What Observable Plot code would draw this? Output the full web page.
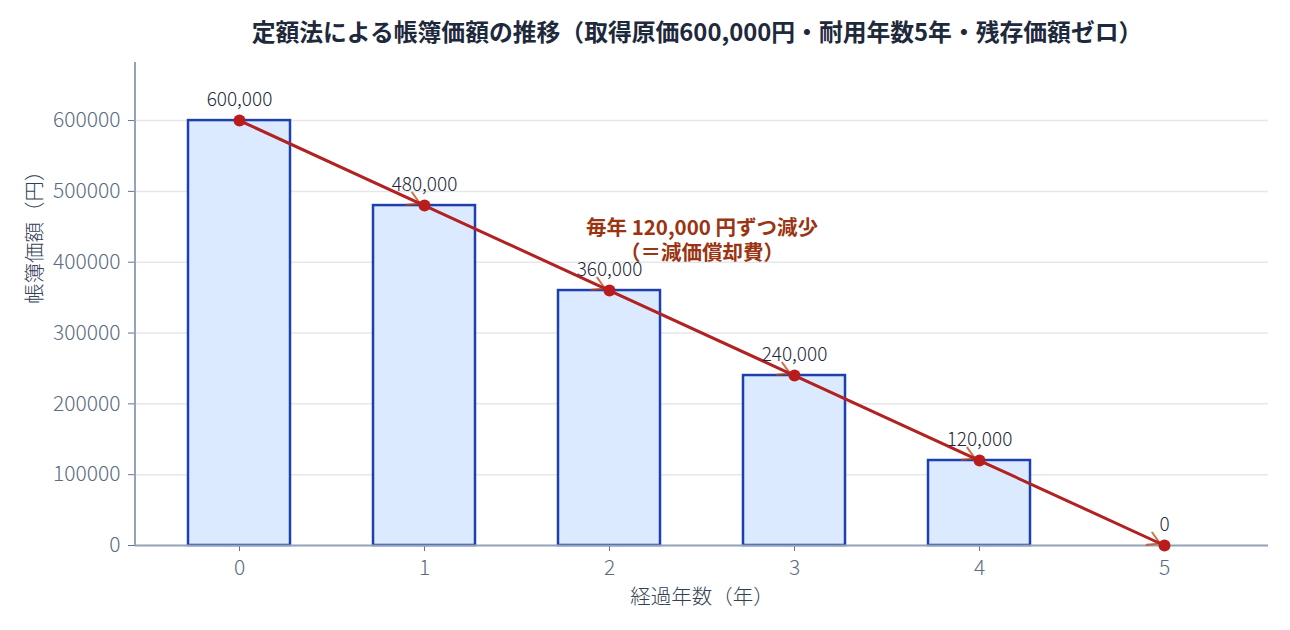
<!DOCTYPE html>
<html>
<head>
<meta charset="utf-8">
<script src="https://cdn.jsdelivr.net/npm/d3@7"></script>
<script src="https://cdn.jsdelivr.net/npm/@observablehq/plot@0.6"></script>
<style>
  html, body { margin: 0; padding: 0; background: #fff; }
  body { width: 1290px; height: 630px; overflow: hidden; font-family: "Noto Sans CJK JP", "Noto Sans", sans-serif; }
  #title { height: 50px; line-height: 62px; text-align: center; font-size: 23.8px; font-weight: bold; color: #1e293b; padding-left: 104px; box-sizing: border-box; white-space: nowrap; }
  #chart svg { display: block; }
</style>
</head>
<body>
<div id="title"></div>
<div id="chart"></div>
<script>
const years = [0, 1, 2, 3, 4, 5];
const bookValues = [600000, 480000, 360000, 240000, 120000, 0];
const valueLabels = ["600,000", "480,000", "360,000", "240,000", "120,000", "0"];
const yTicks = [0, 100000, 200000, 300000, 400000, 500000, 600000];
const annotationText = "毎年 120,000 円ずつ減少\n（＝減価償却費）";
const annotationY = 431500;
const titleText = "定額法による帳簿価額の推移（取得原価600,000円・耐用年数5年・残存価額ゼロ）";
const xLabel = "経過年数（年）";
const yLabel = "帳簿価額（円）";

document.getElementById("title").textContent = titleText;

const rows = years.map((y, i) => ({year: y, value: bookValues[i], label: valueLabels[i]}));
const segments = rows.slice(0, -1).map((r, i) => ({x1: r.year, y1: r.value, x2: rows[i + 1].year, y2: rows[i + 1].value}));

const font = '"Noto Sans CJK JP", "Noto Sans", sans-serif';

const chart = Plot.plot({
  width: 1290,
  height: 580,
  marginLeft: 135,
  marginRight: 22,
  marginTop: 12,
  marginBottom: 85,
  style: {fontFamily: font, fontSize: "21px", color: "#64748b", background: "#fff", fontWeight: 300},
  x: {type: "band", domain: years, paddingInner: 0.45, paddingOuter: 0.275, label: null},
  y: {domain: [0, 682000], label: null},
  marks: [
    Plot.gridY(yTicks, {stroke: "#e5e7eb", strokeOpacity: 1, strokeWidth: 1.5}),
    Plot.barY(rows, {x: "year", y: "value", fill: "#dbeafe", stroke: "#1e40af", strokeWidth: 2.5}),
    Plot.axisY(yTicks, {tickFormat: d => String(d), tickSize: 7, tickPadding: 8, stroke: "#64748b", fill: "#5b6b82", fontSize: 21, fontWeight: 300, label: null}),
    Plot.axisX(years, {tickSize: 6, tickPadding: 9, stroke: "#64748b", fill: "#5b6b82", fontSize: 21, fontWeight: 300, label: null}),
    Plot.ruleY([0], {stroke: "#94a3b8", strokeWidth: 2}),
    Plot.arrow(segments, {x1: "x1", y1: "y1", x2: "x2", y2: "y2", stroke: "#c2410c", strokeOpacity: 0.75, strokeWidth: 2, headLength: 10, insetEnd: 5}),
    Plot.line(rows, {x: "year", y: "value", stroke: "#b22222", strokeWidth: 3}),
    Plot.dot(rows, {x: "year", y: "value", r: 6, fill: "#b91c1c", stroke: "none"}),
    Plot.text(rows, {x: "year", y: "value", text: "label", dy: -21, fill: "#1e293b", fontSize: 19, fontWeight: 300}),
    Plot.text([annotationText], {y: () => annotationY, frameAnchor: "middle", text: d => d, fill: "#9a3412", fontSize: 20.5, fontWeight: "bold", lineHeight: 1.22}),
    Plot.text([yLabel], {frameAnchor: "left", dx: -100, rotate: -90, text: d => d, fill: "#334155", fontSize: 20.5, fontWeight: 300}),
    Plot.text([xLabel], {frameAnchor: "bottom", dy: 58, text: d => d, fill: "#334155", fontSize: 20.5, fontWeight: 300})
  ]
});
document.getElementById("chart").append(chart);
const svg = d3.select(chart);
svg.append("line").attr("x1", 135).attr("x2", 135).attr("y1", 12).attr("y2", 495).attr("stroke", "#94a3b8").attr("stroke-width", 2);
</script>
</body>
</html>
